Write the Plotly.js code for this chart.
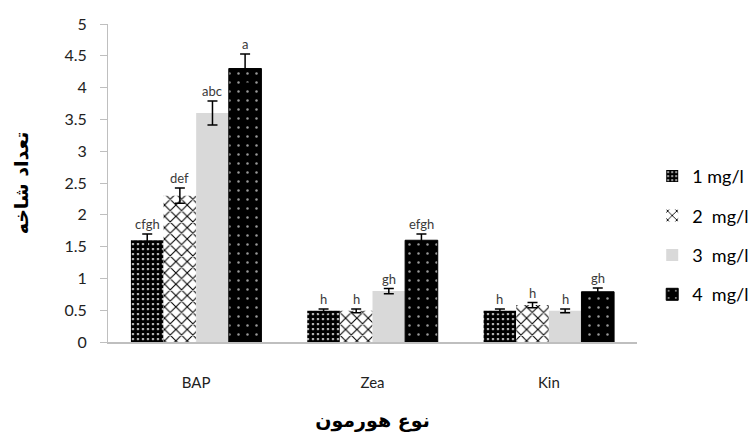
<!DOCTYPE html>
<html>
<head>
<meta charset="utf-8">
<script src="https://cdn.plot.ly/plotly-3.0.1.min.js"></script>
<style>html,body{margin:0;padding:0;background:#fff;}#chart{width:754px;height:440px;}</style>
</head>
<body>
<div id="chart"></div>
<script>
const categories = ["BAP", "Zea", "Kin"];
const seriesNames = ["1 mg/l", "2  mg/l", "3  mg/l", "4  mg/l"];
const values1 = [1.6, 0.49, 0.49];
const values2 = [2.3, 0.49, 0.58];
const values3 = [3.6, 0.80, 0.49];
const values4 = [4.3, 1.60, 0.79];
const errors1 = [0.10, 0.03, 0.03];
const errors2 = [0.12, 0.03, 0.04];
const errors3 = [0.19, 0.04, 0.03];
const errors4 = [0.23, 0.10, 0.06];
const letters1 = ["cfgh", "h", "h"];
const letters2 = ["def", "h", "h"];
const letters3 = ["abc", "gh", "h"];
const letters4 = ["a", "efgh", "gh"];
const yTicks = [0, 0.5, 1, 1.5, 2, 2.5, 3, 3.5, 4, 4.5, 5];
const yTickLabels = ["0", "0.5", "1", "1.5", "2", "2.5", "3", "3.5", "4", "4.5", "5"];

const allValues = [values1, values2, values3, values4];
const allErrors = [errors1, errors2, errors3, errors4];
const allLetters = [letters1, letters2, letters3, letters4];

const patterns = [
  {shape: ".", bgcolor: "#ffffff", fgcolor: "#000000", size: 5, solidity: 0.8},
  {shape: "x", bgcolor: "#ffffff", fgcolor: "#000000", size: 8, solidity: 0.25},
  {shape: ".", bgcolor: "#ffffff", fgcolor: "#a0a0a0", size: 2, solidity: 0.45},
  {shape: ".", bgcolor: "#000000", fgcolor: "#9a9a9a", size: 9, solidity: 0.06}
];

const bargap = 0.26;
const xIdx = categories.map((c, i) => i);
const font = "Lato, Carlito, 'Noto Sans', sans-serif";

const traces = allValues.map((vals, j) => ({
  type: "bar",
  name: seriesNames[j],
  legendgroup: "g" + j,
  x: xIdx,
  y: vals,
  marker: {
    color: patterns[j].bgcolor,
    pattern: Object.assign({fillmode: "replace"}, patterns[j]),
    line: {color: j === 3 ? "#000" : "rgba(0,0,0,0)", width: j === 3 ? 1 : 0}
  },
  error_y: {type: "data", array: allErrors[j], visible: true, color: "#000", thickness: 1.5, width: 5},
  hoverinfo: "skip"
}));

const nS = allValues.length;
const w = (1 - bargap) / nS;
const annotations = [];
allValues.forEach((vals, j) => {
  vals.forEach((v, i) => {
    annotations.push({
      x: i - (1 - bargap) / 2 + (j + 0.5) * w,
      y: v + allErrors[j][i],
      xref: "x", yref: "y",
      text: allLetters[j][i],
      showarrow: false,
      yanchor: "bottom",
      yshift: 0,
      font: {family: font, size: 13, color: "#3a3a3a"}
    });
  });
});

const layout = {
  width: 754, height: 440,
  margin: {l: 108, r: 117, t: 24, b: 98},
  paper_bgcolor: "#fff", plot_bgcolor: "#fff",
  barmode: "group",
  bargap: bargap,
  bargroupgap: 0,
  showlegend: true,
  font: {family: font, color: "#222"},
  xaxis: {
    range: [-0.5, 2.5],
    tickmode: "array",
    tickvals: xIdx,
    ticktext: categories,
    showgrid: false,
    zeroline: false,
    showline: true,
    linecolor: "#bfbfbf",
    linewidth: 2,
    ticks: "",
    ticklabelstandoff: 26,
    tickfont: {family: font, size: 15, color: "#222"},
    title: {text: "<b>نوع هورمون</b>", font: {family: "'DejaVu Sans', sans-serif", size: 19, color: "#000"}, standoff: 24}
  },
  yaxis: {
    range: [0, 5],
    tickmode: "array",
    tickvals: yTicks,
    ticktext: yTickLabels,
    showgrid: false,
    zeroline: false,
    showline: true,
    linecolor: "#bfbfbf",
    linewidth: 1,
    ticks: "outside",
    ticklen: 7,
    tickcolor: "#bfbfbf",
    ticklabelstandoff: 10,
    tickfont: {family: font, size: 16, color: "#222"},
    title: {text: "<b>تعداد شاخه</b>", font: {family: "'DejaVu Sans', sans-serif", size: 19, color: "#000"}, standoff: 30}
  },
  legend: {
    xref: "container", yref: "container",
    x: 0.865, xanchor: "left",
    y: 0.465, yanchor: "middle",
    traceorder: "grouped",
    tracegroupgap: 13,
    itemwidth: 30,
    font: {family: font, size: 18, color: "#000"},
    bgcolor: "rgba(0,0,0,0)"
  },
  annotations: annotations
};

Plotly.newPlot("chart", traces, layout, {displayModeBar: false, staticPlot: true});
</script>
</body>
</html>
